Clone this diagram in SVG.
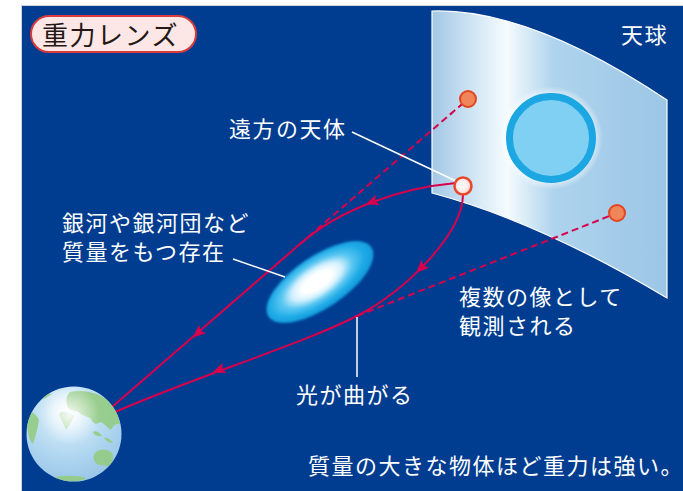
<svg xmlns="http://www.w3.org/2000/svg" xmlns:xlink="http://www.w3.org/1999/xlink" width="683" height="491" viewBox="0 0 683 491">
  <defs>
    <style>
      .lbl { font-family: "Noto Sans CJK JP", "Noto Sans", sans-serif; font-size: 22px; letter-spacing: 1.5px; fill: #ffffff; }
      .ray { fill: none; stroke: #d8004d; stroke-width: 2; }
      .ghost { fill: none; stroke: #d8004d; stroke-width: 2; stroke-dasharray: 7 4; }
      .lead { fill: none; stroke: #ffffff; stroke-width: 1.5; }
      .img { fill: #ef8559; stroke: #e2451f; stroke-width: 2; }
      .ah { fill: #d8004d; }
    </style>
    <linearGradient id="skyGrad" x1="432" y1="0" x2="667" y2="0" gradientUnits="userSpaceOnUse">
      <stop offset="0" stop-color="#a3c7e5"/>
      <stop offset="0.22" stop-color="#dcedf8"/>
      <stop offset="0.32" stop-color="#f5fbfe"/>
      <stop offset="0.52" stop-color="#aed3ed"/>
      <stop offset="1" stop-color="#9cc6e6"/>
    </linearGradient>
    <radialGradient id="galaxyGrad" cx="0.48" cy="0.46" r="0.55">
      <stop offset="0" stop-color="#ffffff"/>
      <stop offset="0.25" stop-color="#ffffff"/>
      <stop offset="0.42" stop-color="#d4f1fd"/>
      <stop offset="0.6" stop-color="#5ac7f2"/>
      <stop offset="0.8" stop-color="#1eaae6"/>
      <stop offset="1" stop-color="#1199dc"/>
    </radialGradient>
    <radialGradient id="sourceGrad" cx="0.45" cy="0.45" r="0.6">
      <stop offset="0" stop-color="#ffffff"/>
      <stop offset="0.6" stop-color="#fde8e6"/>
      <stop offset="1" stop-color="#f7b5ae"/>
    </radialGradient>
    <radialGradient id="earthGrad" cx="0.42" cy="0.25" r="0.8">
      <stop offset="0" stop-color="#f6fbff"/>
      <stop offset="0.3" stop-color="#c9e5f6"/>
      <stop offset="0.7" stop-color="#a9d2ee"/>
      <stop offset="1" stop-color="#98c4e4"/>
    </radialGradient>
    <radialGradient id="earthShine" cx="0.45" cy="0.3" r="0.32">
      <stop offset="0" stop-color="#ffffff" stop-opacity="0.9"/>
      <stop offset="1" stop-color="#ffffff" stop-opacity="0"/>
    </radialGradient>
    <radialGradient id="haloGrad" cx="0.5" cy="0.5" r="0.5">
      <stop offset="0.8" stop-color="#ffffff" stop-opacity="0.7"/>
      <stop offset="1" stop-color="#ffffff" stop-opacity="0"/>
    </radialGradient>
    <clipPath id="earthClip">
      <circle cx="74" cy="434" r="47.5"/>
    </clipPath>
    <filter id="soft" x="-20%" y="-20%" width="140%" height="140%">
      <feGaussianBlur stdDeviation="1.1"/>
    </filter>
    <filter id="softRing" x="-10%" y="-10%" width="120%" height="120%">
      <feGaussianBlur stdDeviation="0.5"/>
    </filter>
    <path id="arrowHead" d="M7,0 L-6,-5.5 L-3.5,0 L-6,5.5 Z"/>
  </defs>

  <!-- page and night-sky panel -->
  <rect x="0" y="0" width="683" height="491" fill="#ffffff"/>
  <rect x="21" y="5" width="662" height="486" fill="#c9d3e2"/>
  <rect x="22" y="6" width="661" height="485" fill="#003d91"/>

  <!-- title badge -->
  <g id="title">
    <rect x="31" y="16" width="165" height="36" rx="18" fill="#fde6e6" stroke="#d83b3b" stroke-width="2"/>
    <text x="42" y="45" font-family="'Noto Sans CJK JP', sans-serif" font-size="26" letter-spacing="1.5" fill="#231815">重力レンズ</text>
  </g>

  <!-- celestial sphere -->
  <g id="celestial-sphere">
    <path d="M432,11 Q530,8 667,100 L667,298 Q540,222 432,193 Z" fill="url(#skyGrad)" stroke="#ffffff" stroke-width="1.2"/>
    <text class="lbl" x="621" y="43">天球</text>
  </g>

  <!-- apparent disc behind the lens -->
  <g id="apparent-disc">
    <circle cx="551" cy="138" r="52" fill="url(#haloGrad)"/>
    <circle cx="551" cy="138" r="41.5" fill="#80d0f3" stroke="#1aa7e2" stroke-width="7" filter="url(#softRing)"/>
  </g>

  <!-- lensing galaxy -->
  <g id="lens-galaxy">
    <ellipse cx="320" cy="282" rx="62" ry="26" transform="rotate(-34 320 282)" fill="url(#galaxyGrad)" filter="url(#soft)"/>
  </g>

  <!-- light paths -->
  <g id="connectors">
    <path class="ray" d="M456,183 C400,188 340,209 300,244 L112,407"/>
    <path class="ray" d="M463,195 C462,235 405,291 357,316 C300,345 200,375 115,412"/>
    <path class="ghost" d="M300,244 L468,99"/>
    <path class="ghost" d="M357,316 L617,213"/>
    <use xlink:href="#arrowHead" class="ah" transform="translate(372,202) rotate(158.5)"/>
    <use xlink:href="#arrowHead" class="ah" transform="translate(198,333) rotate(139)"/>
    <use xlink:href="#arrowHead" class="ah" transform="translate(421,268) rotate(135)"/>
    <use xlink:href="#arrowHead" class="ah" transform="translate(219,370) rotate(160)"/>
    <!-- leader lines -->
    <path class="lead" d="M352,132 L456,181"/>
    <path class="lead" d="M233,259 L285,277"/>
    <path class="lead" d="M357,317 L357,377"/>
  </g>

  <!-- distant source and its images -->
  <g id="source">
    <circle cx="463" cy="186" r="8.5" fill="url(#sourceGrad)" stroke="#e8482a" stroke-width="2.5"/>
  </g>
  <g id="image-upper">
    <circle class="img" cx="468" cy="99" r="8"/>
  </g>
  <g id="image-lower">
    <circle class="img" cx="617" cy="213" r="8"/>
  </g>

  <!-- observer -->
  <g id="earth">
    <circle cx="74" cy="434" r="47.5" fill="url(#earthGrad)"/>
    <g clip-path="url(#earthClip)" fill="#93cb83" fill-opacity="0.9">
      <!-- Asia -->
      <path d="M70,392 C84,389 100,393 110,402 C116,409 119,416 120,424 C116,423 113,426 111,430 C107,428 105,423 100,422 C97,425 93,424 91,419 C87,415 83,417 80,413 C76,410 72,411 69,409 C66,404 65,397 70,392 Z"/>
      <!-- India -->
      <path d="M61,412 C66,411 71,413 74,416 C72,421 69,426 66,430 C64,425 61,419 59,415 Z"/>
      <!-- islands -->
      <path d="M93,432 C97,430 100,433 102,436 C98,437 95,436 93,432 Z"/>
      <path d="M104,438 C108,437 111,440 113,443 C109,443 106,441 104,438 Z"/>
      <!-- Australia -->
      <path d="M95,453 C100,448 108,449 112,453 C114,458 113,464 108,466 C103,465 99,466 96,463 C93,460 93,456 95,453 Z"/>
      <!-- Africa -->
      <path d="M27,412 C32,411 36,414 39,420 C38,428 35,437 33,444 C30,442 28,435 27,426 Z"/>
      <!-- Antarctica -->
      <path d="M52,478 C62,475 76,475 86,478 C84,482 62,483 52,478 Z"/>
      <path d="M36,398 C41,394 47,393 52,394 C48,397 43,399 38,401 Z"/>
    </g>
    <circle cx="74" cy="434" r="47.5" fill="url(#earthShine)"/>
  </g>

  <!-- labels -->
  <g id="labels">
    <text class="lbl" x="229" y="137">遠方の天体</text>
    <text class="lbl" x="62" y="231">銀河や銀河団など</text>
    <text class="lbl" x="62" y="260">質量をもつ存在</text>
    <text class="lbl" x="459" y="305">複数の像として</text>
    <text class="lbl" x="459" y="334">観測される</text>
    <text class="lbl" x="296" y="403">光が曲がる</text>
    <text class="lbl" x="308" y="474" letter-spacing="0.8">質量の大きな物体ほど重力は強い。</text>
  </g>
</svg>
